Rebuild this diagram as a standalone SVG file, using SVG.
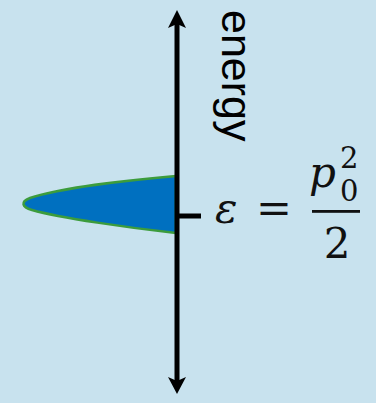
<svg xmlns="http://www.w3.org/2000/svg" width="376" height="403" viewBox="0 0 376 403">
<rect width="376" height="403" fill="#c8e2ee"/>
<g id="distribution">
<path d="M176,176 C130,180 60,188 30,198 C20,202 22,207 32,210 C60,218 130,228 176,233 Z" fill="#0070c0" stroke="#3c9c3c" stroke-width="2.5" stroke-linejoin="round"/>
</g>
<g id="connectors">
<line x1="177" y1="24" x2="177" y2="381" stroke="#000" stroke-width="5"/>
<polygon points="177,10 168,28 177,24 186,28" fill="#000"/>
<polygon points="177,394 168,377 177,381 186,377" fill="#000"/>
<rect x="177" y="213.5" width="24" height="5" fill="#000"/>
</g>
<g id="axis-label">
<text transform="translate(222,10) rotate(90)" font-family="Liberation Sans, Arial, sans-serif" font-size="43" fill="#000">energy</text>
</g>
<g id="equation" fill="#111">
<text font-family="DejaVu Serif" font-style="italic" x="215" y="223" font-size="42">ε</text>
<text font-family="DejaVu Serif" x="256" y="223" font-size="42" textLength="36" lengthAdjust="spacingAndGlyphs">=</text>
<text font-family="DejaVu Serif" font-style="italic" x="309" y="187" font-size="42">p</text>
<text font-family="DejaVu Serif" x="340" y="168" font-size="29">2</text>
<text font-family="DejaVu Serif" x="340" y="201" font-size="29">0</text>
<rect x="312" y="210" width="48" height="2.8"/>
<text font-family="DejaVu Serif" x="337" y="258" font-size="42" text-anchor="middle">2</text>
</g>
</svg>
